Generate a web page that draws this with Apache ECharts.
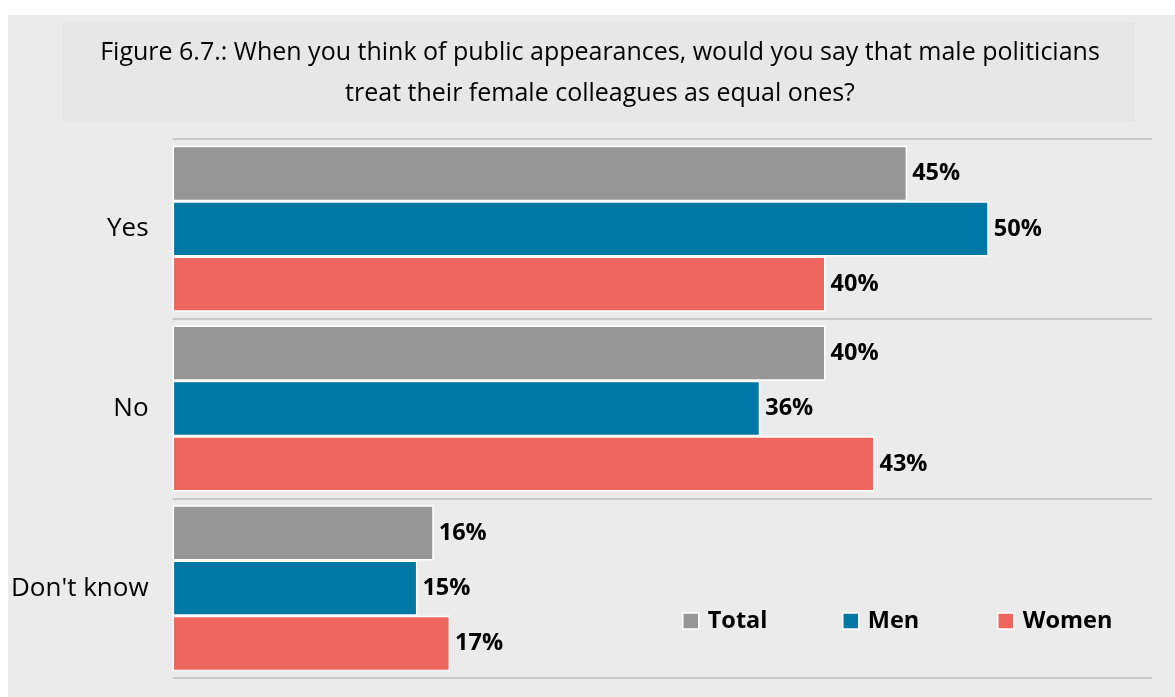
<!DOCTYPE html>
<html>
<head>
<meta charset="utf-8">
<script src="https://cdn.jsdelivr.net/npm/echarts@6/dist/echarts.min.js"></script>
<style>
  html, body { margin: 0; padding: 0; background: #ffffff; }
  #chart { position: absolute; left: 8px; top: 15px; width: 1167px; height: 682px; }
</style>
</head>
<body>
<div id="chart"></div>
<script>
// Survey answers, shares in percent
const categories = ['Yes', 'No', "Don't know"];
const totalValues = [45, 40, 16];
const menValues = [50, 36, 15];
const womenValues = [40, 43, 17];
const seriesNames = ['Total', 'Men', 'Women'];
const titleLines = [
  'Figure 6.7.: When you think of public appearances, would you say that male politicians',
  'treat their female colleagues as equal ones?'
];

const FONT = 'Open Sans';
const colors = { Total: '#969696', Men: '#0078a5', Women: '#ee665d' };

function barSeries(name, values) {
  return {
    name: name,
    type: 'bar',
    data: values,
    barGap: '0%',
    barCategoryGap: '7.6%',
    itemStyle: { color: colors[name], borderColor: '#ffffff', borderWidth: 1.5 },
    label: {
      show: true,
      position: 'right',
      distance: 5,
      formatter: '{c}%',
      color: '#000000',
      fontFamily: FONT,
      fontWeight: 'bold',
      fontSize: 23.5
    }
  };
}

// one legend block per series so each swatch sits at its own x
const legendLefts = [669, 829, 984];
const legends = seriesNames.map((name, i) => ({
  data: [name],
  left: legendLefts[i],
  top: 589,
  itemWidth: 16,
  itemHeight: 16,
  icon: 'rect',
  itemStyle: { borderColor: '#ffffff', borderWidth: 1.5 },
  textStyle: {
    fontFamily: FONT, fontWeight: 'bold', fontSize: 23.5, color: '#000000',
    padding: [0, 0, 0, 4]
  }
}));

const chart = echarts.init(document.getElementById('chart'));
chart.setOption({
  backgroundColor: '#ebebeb',
  animation: false,
  graphic: [
    {
      type: 'rect',
      shape: { x: 55, y: 7, width: 1072, height: 100 },
      style: { fill: '#e7e7e7' },
      z: -1
    },
    {
      type: 'text',
      x: 592, y: 37.5,
      style: {
        text: titleLines[0], fontFamily: FONT, fontSize: 25, fill: '#000000',
        textAlign: 'center', textVerticalAlign: 'middle'
      }
    },
    {
      type: 'text',
      x: 592, y: 78.5,
      style: {
        text: titleLines[1], fontFamily: FONT, fontSize: 25, fill: '#000000',
        textAlign: 'center', textVerticalAlign: 'middle'
      }
    }
  ],
  legend: legends,
  grid: { left: 164, right: 23, top: 124, bottom: 19, containLabel: false },
  xAxis: {
    type: 'value',
    min: 0,
    max: 60,
    interval: 10,
    show: false
  },
  yAxis: {
    type: 'category',
    data: categories,
    inverse: true,
    axisLine: { show: false },
    axisTick: { show: false },
    splitLine: { show: true, lineStyle: { color: '#c8c8c8', width: 2 } },
    axisLabel: { fontFamily: FONT, fontSize: 26, color: '#000000', margin: 24 }
  },
  series: [
    barSeries('Total', totalValues),
    barSeries('Men', menValues),
    barSeries('Women', womenValues)
  ]
});
</script>
</body>
</html>
